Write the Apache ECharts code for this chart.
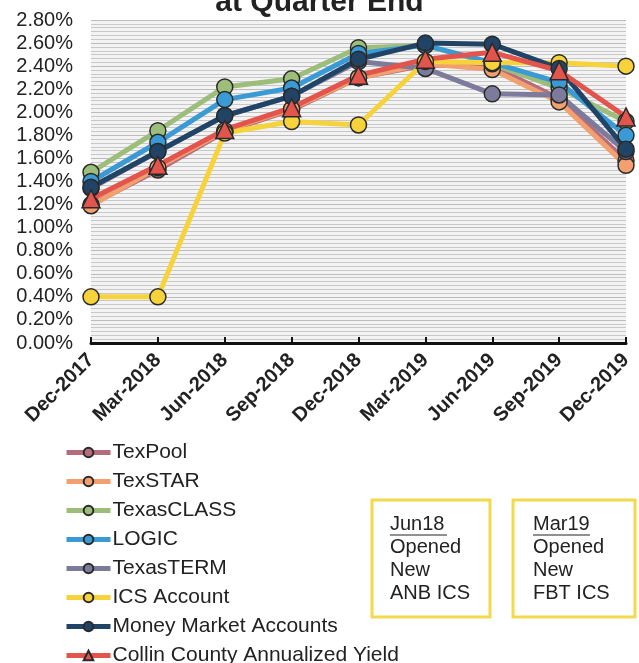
<!DOCTYPE html>
<html>
<head>
<meta charset="utf-8">
<script src="https://cdn.jsdelivr.net/npm/echarts@6/dist/echarts.min.js"></script>
<style>
  html, body { margin: 0; padding: 0; background: #fff; }
  #chart { width: 639px; height: 663px; }
</style>
</head>
<body>
<div id="chart"></div>
<script>
var quarters = ['Dec-2017', 'Mar-2018', 'Jun-2018', 'Sep-2018', 'Dec-2018', 'Mar-2019', 'Jun-2019', 'Sep-2019', 'Dec-2019'];

var texPool     = [1.20, 1.50, 1.83, 2.02, 2.30, 2.41, 2.40, 2.12, 1.58];
var texStar     = [1.19, 1.52, 1.84, 2.03, 2.30, 2.42, 2.37, 2.09, 1.54];
var texasClass  = [1.48, 1.84, 2.22, 2.29, 2.56, 2.58, 2.42, 2.21, 1.92];
var logic       = [1.40, 1.74, 2.11, 2.21, 2.51, 2.58, 2.43, 2.26, 1.80];
var texasTerm   = [1.34, 1.66, 1.97, 2.14, 2.44, 2.38, 2.16, 2.15, 1.66];
var icsAccount  = [0.40, 0.40, 1.82, 1.92, 1.89, 2.44, 2.43, 2.43, 2.40];
var moneyMarket = [1.35, 1.66, 1.97, 2.14, 2.46, 2.60, 2.59, 2.38, 1.68];
var collinYield = [1.25, 1.54, 1.85, 2.04, 2.32, 2.46, 2.52, 2.36, 1.96];

var yTicks = { min: 0, max: 2.8, interval: 0.2 };

var font = '"Liberation Sans", Arial, sans-serif';
var chart = echarts.init(document.getElementById('chart'));

function line(name, data, color, symbol) {
  return {
    name: name,
    type: 'line',
    data: data,
    symbol: symbol || 'circle',
    symbolSize: symbol === 'triangle' ? 18 : 16,
    lineStyle: { color: color, width: 5 },
    itemStyle: { color: color, borderColor: '#2a2a2a', borderWidth: 1.5 },
    emphasis: { disabled: true }
  };
}

chart.setOption({
  animation: false,
  textStyle: { fontFamily: font },
  grid: {
    left: 91, right: 13, top: 20, bottom: 320,
    show: true, backgroundColor: '#f3f3f3', borderWidth: 0
  },
  legend: {
    orient: 'vertical',
    left: 64,
    top: 442,
    height: 400,
    padding: 0,
    itemWidth: 44,
    itemHeight: 12,
    itemGap: 8,
    lineStyle: { width: 5 },
    textStyle: { fontSize: 21, color: '#222', fontFamily: font, padding: [0, 0, 0, -3] },
    data: ['TexPool', 'TexSTAR', 'TexasCLASS', 'LOGIC', 'TexasTERM', 'ICS Account', 'Money Market Accounts', 'Collin County Annualized Yield']
  },
  xAxis: {
    type: 'category',
    data: quarters,
    boundaryGap: false,
    axisLine: { lineStyle: { color: '#111', width: 3 } },
    axisTick: { show: true, lineStyle: { color: '#111', width: 2 }, length: 6, inside: true },
    axisLabel: { rotate: 45, fontSize: 20, fontWeight: 'bold', color: '#222', margin: 14 },
    splitLine: { show: false }
  },
  yAxis: {
    type: 'value',
    min: yTicks.min,
    max: yTicks.max,
    interval: yTicks.interval,
    axisLine: { show: false },
    axisTick: { show: false },
    axisLabel: {
      fontSize: 20, color: '#222', margin: 18,
      formatter: function (v) { return v.toFixed(2) + '%'; }
    },
    splitLine: { lineStyle: { color: '#bcbcbc', width: 1.2 } },
    minorTick: { show: false, splitNumber: 6 },
    minorSplitLine: { show: true, lineStyle: { color: '#c8c8c8', width: 1.2 } }
  },
  graphic: [
    {
      type: 'text', left: 'center', top: -12,
      style: { text: 'at Quarter End', font: 'bold 30px ' + font, fill: '#222' }
    },
    {
      type: 'rect', shape: { x: 372, y: 500, width: 118, height: 117 },
      style: { fill: '#fff', stroke: '#f2d94e', lineWidth: 3 }
    },
    {
      type: 'rect', shape: { x: 513, y: 500, width: 122, height: 117 },
      style: { fill: '#fff', stroke: '#f2d94e', lineWidth: 3 }
    },
    {
      type: 'text', x: 390, y: 513,
      style: { text: 'Jun18\nOpened\nNew\nANB ICS', font: '20px ' + font, fill: '#222', lineHeight: 23 }
    },
    {
      type: 'line', shape: { x1: 390, y1: 535, x2: 447, y2: 535 },
      style: { stroke: '#222', lineWidth: 1.2 }
    },
    {
      type: 'text', x: 533, y: 513,
      style: { text: 'Mar19\nOpened\nNew\nFBT ICS', font: '20px ' + font, fill: '#222', lineHeight: 23 }
    },
    {
      type: 'line', shape: { x1: 533, y1: 535, x2: 590, y2: 535 },
      style: { stroke: '#222', lineWidth: 1.2 }
    }
  ],
  series: [
    line('TexPool', texPool, '#b46d7c'),
    line('TexSTAR', texStar, '#f2a06f'),
    line('TexasCLASS', texasClass, '#9dbd7b'),
    line('LOGIC', logic, '#3a9ad6'),
    line('TexasTERM', texasTerm, '#7c7b9c'),
    line('ICS Account', icsAccount, '#f6d33a'),
    line('Money Market Accounts', moneyMarket, '#214466'),
    line('Collin County Annualized Yield', collinYield, '#e3544c', 'triangle')
  ]
});
</script>
</body>
</html>
